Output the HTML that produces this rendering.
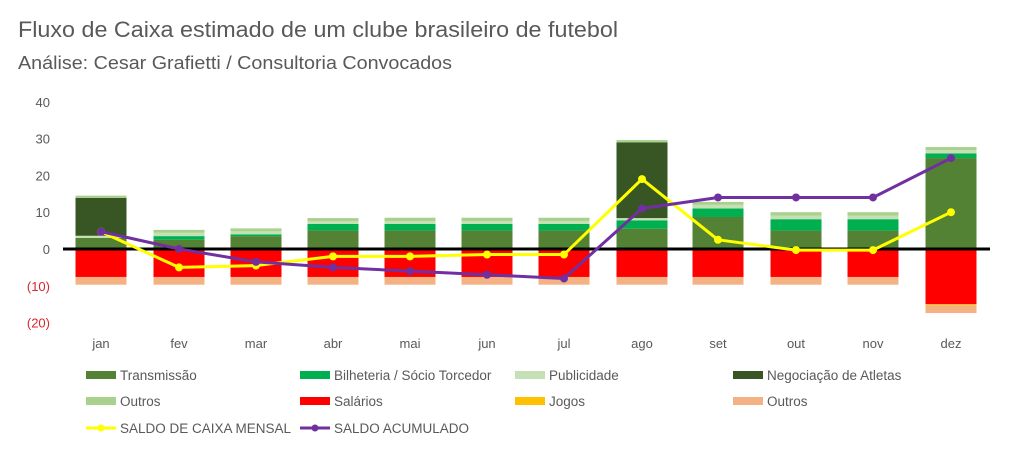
<!DOCTYPE html>
<html><head><meta charset="utf-8"><style>
html,body{margin:0;padding:0;background:#fff;width:1024px;height:450px;overflow:hidden}
svg{display:block;font-family:"Liberation Sans",sans-serif}
</style></head><body>
<svg id="s" width="1024" height="450" xmlns="http://www.w3.org/2000/svg">
<text x="18" y="37" font-size="22" fill="#595959" textLength="600" lengthAdjust="spacingAndGlyphs">Fluxo de Caixa estimado de um clube brasileiro de futebol</text>
<text x="18" y="69" font-size="18" fill="#595959" textLength="434" lengthAdjust="spacingAndGlyphs">Análise: Cesar Grafietti / Consultoria Convocados</text>
</svg>
<script>
const s=document.getElementById('s');const NS='http://www.w3.org/2000/svg';
function el(t,a,txt){const e=document.createElementNS(NS,t);for(const k in a)e.setAttribute(k,a[k]);if(txt!=null)e.textContent=txt;s.appendChild(e);return e;}
const Y=v=>249-3.68*v;
[[40,'40'],[30,'30'],[20,'20'],[10,'10'],[0,'0'],[-10,'(10)'],[-20,'(20)']].forEach(([v,t])=>{
 el('text',{x:50,y:Y(v)+5,'font-size':13,'text-anchor':'end',fill:v<0?'#d9262e':'#595959'},t);});
const xs=[101,179,256,333,410,487,564,642,718,796,873,951];
const m=['jan','fev','mar','abr','mai','jun','jul','ago','set','out','nov','dez'];
const pos=[[3,0,0.6,10.3,0.6],[2.5,1,0.9,0,0.8],[3.5,0.5,0.8,0,0.8],[5,1.8,0.8,0,0.8],[5,1.8,0.8,0,0.9],[5,1.8,0.8,0,0.9],[5,1.8,0.8,0,0.9],[5.5,2.3,0.6,20.6,0.6],[8.7,2.3,1,0,0.8],[5,3.1,1,0,0.9],[5,3.1,1,0,0.9],[24.7,1.3,0.9,0,0.8]];
const cols=['#548235','#00b050','#c5e0b4','#375623','#a9d18e'];
const neg=m.map((_,i)=>i==11?[-15,-0.3,-2.1]:[-7.6,0,-2.1]);
const ncols=['#ff0000','#ffc000','#f4b183'];
xs.forEach((x,i)=>{let c=0;pos[i].forEach((v,j)=>{if(v>0){el('rect',{x:x-25.5,y:Y(c+v),width:51,height:3.68*v,fill:cols[j]});c+=v;}});
 c=0;neg[i].forEach((v,j)=>{if(v<0){el('rect',{x:x-25.5,y:Y(c),width:51,height:-3.68*v,fill:ncols[j]});c+=v;}});
 el('text',{x:x,y:348,'font-size':13,'text-anchor':'middle',fill:'#595959'},m[i]);});
el('line',{x1:63,x2:990,y1:249,y2:249,stroke:'#000','stroke-width':3});
const yel=[4.7,-5,-4.5,-2,-2,-1.5,-1.5,19,2.5,-0.3,-0.3,10];
const pur=[4.7,0,-3.5,-5,-6,-7,-8,11,14,14,14,24.7];
[[yel,'#ffff00'],[pur,'#7030a0']].forEach(([d,c])=>{el('polyline',{points:d.map((v,i)=>xs[i]+','+Y(v)).join(' '),fill:'none',stroke:c,'stroke-width':3,'stroke-linejoin':'round'});
 d.forEach((v,i)=>el('circle',{cx:xs[i],cy:Y(v),r:4,fill:c}));});
const L=[[86,375,'#548235','Transmissão'],[300,375,'#00b050','Bilheteria / Sócio Torcedor'],[515,375,'#c5e0b4','Publicidade'],[733,375,'#375623','Negociação de Atletas'],
[86,401,'#a9d18e','Outros'],[300,401,'#ff0000','Salários'],[515,401,'#ffc000','Jogos'],[733,401,'#f4b183','Outros']];
L.forEach(([x,y,c,t])=>{el('rect',{x:x,y:y-4,width:30,height:8,fill:c});el('text',{x:x+34,y:y+5,'font-size':13.5,fill:'#595959'},t);});
[[86,428,'#ffff00','SALDO DE CAIXA MENSAL'],[300,428,'#7030a0','SALDO ACUMULADO']].forEach(([x,y,c,t])=>{
 el('line',{x1:x,x2:x+30,y1:y,y2:y,stroke:c,'stroke-width':3});el('circle',{cx:x+15,cy:y,r:3.5,fill:c});
 el('text',{x:x+34,y:y+5,'font-size':13.5,fill:'#595959'},t);});
</script>
</body></html>
